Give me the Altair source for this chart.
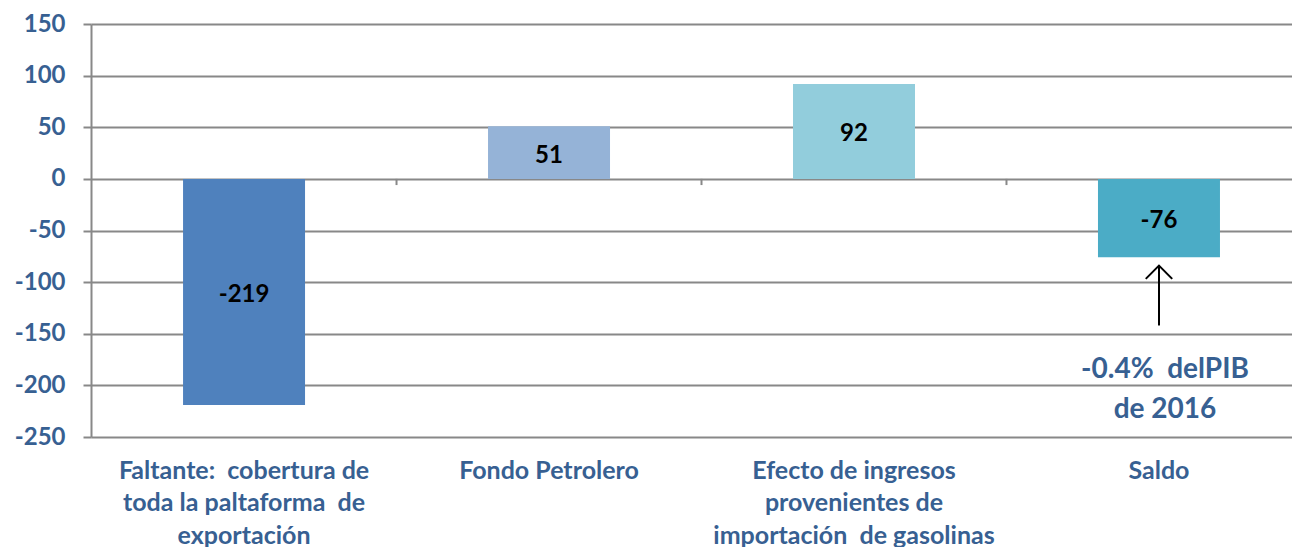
import altair as alt
import pandas as pd

categories = [
    "Faltante:\u00a0\u00a0cobertura de\ntoda la paltaforma\u00a0\u00a0de\nexportación",
    "Fondo Petrolero",
    "Efecto de ingresos\nprovenientes de\nimportación\u00a0\u00a0de gasolinas",
    "Saldo",
]
values = [-219, 51, 92, -76]
colors = ["#4f81bd", "#95b3d7", "#92cddc", "#4bacc6"]
value_labels = ["-219", "51", "92", "-76"]

note_lines = ["-0.4%\u00a0\u00a0delPIB", "de 2016"]
note_values = [-185, -224]
arrow_from, arrow_to = -142, -84

df = pd.DataFrame({
    "cat": categories,
    "val": values,
    "half": [v / 2 for v in values],
    "color": colors,
    "lab": value_labels,
})

FONT = "Lato"
TXT = "#376092"

xscale = alt.Scale(paddingInner=0.6, paddingOuter=0.269, align=0.561)
x = alt.X("cat:N", sort=categories, scale=xscale,
          axis=alt.Axis(title=None, labelAngle=0, domain=False, ticks=False,
                        labelExpr="split(datum.label, '\\n')",
                        labelFont=FONT, labelFontSize=25, labelFontWeight="bold",
                        labelColor=TXT, labelLineHeight=32.5, labelPadding=21,
                        labelLimit=400))
y_scale = alt.Scale(domain=[-250, 150], nice=False, zero=False)

bars = alt.Chart(df).mark_bar().encode(
    x=x,
    y=alt.Y("val:Q", scale=y_scale,
            axis=alt.Axis(title=None, values=list(range(-250, 151, 50)),
                          labelExpr="toString(datum.value)",
                          labelFont=FONT, labelFontSize=24, labelFontWeight="bold",
                          labelColor=TXT, labelPadding=18, tickSize=8,
                          tickColor="#888888", tickWidth=2,
                          domainColor="#888888", domainWidth=2,
                          gridColor="#888888", gridWidth=2)),
    y2=alt.datum(0),
    color=alt.Color("color:N", scale=None),
)

text = alt.Chart(df).mark_text(font=FONT, fontSize=24, fontWeight="bold",
                               color="black", baseline="middle", dy=3).encode(
    x=alt.X("cat:N", sort=categories),
    y=alt.Y("half:Q", scale=y_scale),
    text="lab:N",
)

tick_df = pd.DataFrame({"cat": categories[1:]})
ticks = alt.Chart(tick_df).mark_rule(color="#888888", strokeWidth=2, xOffset=-91.5).encode(
    x=alt.X("cat:N", sort=categories, bandPosition=0),
    y=alt.datum(0, scale=y_scale),
    y2=alt.datum(-6),
)

arrow_df = pd.DataFrame({"cat": [categories[3]], "a": [arrow_from], "b": [arrow_to]})
shaft = alt.Chart(arrow_df).mark_rule(color="black", strokeWidth=2).encode(
    x=alt.X("cat:N", sort=categories),
    y=alt.Y("a:Q", scale=y_scale),
    y2="b:Q",
)
head = alt.Chart(arrow_df).mark_point(
    shape="M-1,1L0,0L1,1", filled=False, size=700, color="black",
    strokeWidth=2, opacity=1).encode(
    x=alt.X("cat:N", sort=categories),
    y=alt.Y("b:Q", scale=y_scale),
)

note_df = pd.DataFrame({"cat": [categories[3]] * 2, "v": note_values, "t": note_lines})
note = alt.Chart(note_df).mark_text(font=FONT, fontSize=28, fontWeight="bold",
                                    color=TXT, baseline="middle", dx=6).encode(
    x=alt.X("cat:N", sort=categories),
    y=alt.Y("v:Q", scale=y_scale),
    text="t:N",
)

chart = alt.layer(bars, ticks, text, shaft, head, note).properties(
    width=1201, height=413,
    autosize=alt.AutoSizeParams(type="none"),
    padding={"left": 83, "top": 16, "right": 0, "bottom": 110},
).configure_view(stroke=None).configure_axisY(gridDash=[])

chart.save("out.html", embed_options={"renderer": "svg", "actions": False})
